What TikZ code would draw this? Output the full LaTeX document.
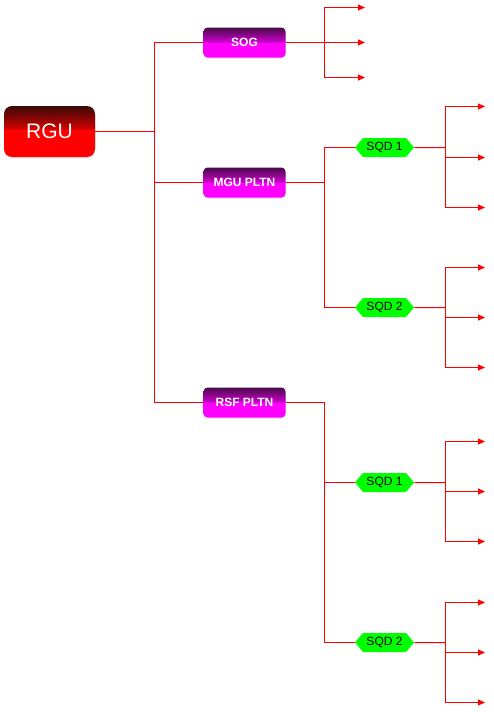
\documentclass[tikz,border=0pt]{standalone}
\usepackage{fontspec}
\setmainfont{Liberation Sans}
\usetikzlibrary{arrows.meta,shapes.symbols,shadows}
\definecolor{rgutop}{RGB}{58,10,10}
\definecolor{rgumid}{RGB}{205,0,0}
\definecolor{magtop}{RGB}{72,10,72}
\definecolor{magmid}{RGB}{205,0,205}
\definecolor{sqdgreen}{RGB}{0,255,0}
\pgfdeclareverticalshading{glossred}{100bp}{color(0bp)=(red); color(25bp)=(red); color(52bp)=(red); color(53bp)=(rgumid); color(75bp)=(rgutop); color(100bp)=(rgutop)}
\pgfdeclareverticalshading{glossmag}{100bp}{color(0bp)=(magenta); color(25bp)=(magenta); color(50bp)=(magenta); color(51bp)=(magmid); color(75bp)=(magtop); color(100bp)=(magtop)}
\begin{document}
\begin{tikzpicture}[x=1pt,y=-1pt,
  conn/.style={draw=red,line width=1pt},
  arr/.style={conn,-{Triangle[length=7pt,width=6pt]}},
  rootbox/.style={rounded corners=8pt, minimum width=91pt, minimum height=51pt, shading=glossred, text=white, font=\fontsize{21}{25}\selectfont, inner sep=0pt, drop shadow={opacity=0.15,shadow xshift=0.5pt,shadow yshift=-1.5pt}},
  midbox/.style={rounded corners=4pt, minimum width=82pt, minimum height=30pt, shading=glossmag, text=white, font=\fontsize{12}{14}\selectfont\bfseries, inner sep=0pt, drop shadow={opacity=0.15,shadow xshift=0.5pt,shadow yshift=-1.5pt}},
  sqdbox/.style={signal, signal to=east and west, signal pointer angle=100, fill=sqdgreen, minimum width=59pt, minimum height=19pt, inner xsep=2pt, inner ysep=0pt, font=\fontsize{12}{14}\selectfont, text=black}
]
\useasboundingbox (0,0) rectangle (493,712);

\node[rootbox] (rgu) at (49.5,131.5) {RGU};
\node[midbox] (sog) at (244.5,42.5) {SOG};
\node[midbox] (mgu) at (244.5,182.5) {MGU PLTN};
\node[midbox] (rsf) at (244.5,402.5) {RSF PLTN};

\node[sqdbox] (m1) at (384.5,147.5) {SQD 1};
\node[sqdbox] (m2) at (384.5,307.5) {SQD 2};
\node[sqdbox] (r1) at (384.5,482.5) {SQD 1};
\node[sqdbox] (r2) at (384.5,642.5) {SQD 2};

% junctions
\coordinate (j0) at (154.5,131.5);
\coordinate (js) at (324.5,42.5);
\coordinate (jm) at (324.5,182.5);
\coordinate (jr) at (324.5,402.5);
\coordinate (jm1) at (445.5,147.5);
\coordinate (jm2) at (445.5,307.5);
\coordinate (jr1) at (445.5,482.5);
\coordinate (jr2) at (445.5,642.5);

% arrow ends
\coordinate (s1) at (365,7.5);
\coordinate (s2) at (365,42.5);
\coordinate (s3) at (365,77.5);
\coordinate (a1) at (485,106.5);
\coordinate (a2) at (485,157.5);
\coordinate (a3) at (485,207.5);
\coordinate (b1) at (485,267.5);
\coordinate (b2) at (485,317.5);
\coordinate (b3) at (485,367.5);
\coordinate (c1) at (485,441.5);
\coordinate (c2) at (485,491.5);
\coordinate (c3) at (485,541.5);
\coordinate (d1) at (485,602.5);
\coordinate (d2) at (485,652.5);
\coordinate (d3) at (485,702.5);

\draw[conn] (rgu) -- (j0);
\draw[conn] (j0) |- (sog);
\draw[conn] (j0) |- (mgu);
\draw[conn] (j0) |- (rsf);

\draw[conn] (sog) -- (js);
\draw[arr] (js) |- (s1);
\draw[arr] (js) -- (s2);
\draw[arr] (js) |- (s3);

\draw[conn] (mgu) -- (jm);
\draw[conn] (jm) |- (m1);
\draw[conn] (jm) |- (m2);
\draw[conn] (rsf) -- (jr);
\draw[conn] (jr) |- (r1);
\draw[conn] (jr) |- (r2);

\draw[conn] (m1) -- (jm1);
\draw[arr] (jm1) |- (a1);
\draw[arr] (jm1) |- (a2);
\draw[arr] (jm1) |- (a3);
\draw[conn] (m2) -- (jm2);
\draw[arr] (jm2) |- (b1);
\draw[arr] (jm2) |- (b2);
\draw[arr] (jm2) |- (b3);
\draw[conn] (r1) -- (jr1);
\draw[arr] (jr1) |- (c1);
\draw[arr] (jr1) |- (c2);
\draw[arr] (jr1) |- (c3);
\draw[conn] (r2) -- (jr2);
\draw[arr] (jr2) |- (d1);
\draw[arr] (jr2) |- (d2);
\draw[arr] (jr2) |- (d3);
\end{tikzpicture}
\end{document}
